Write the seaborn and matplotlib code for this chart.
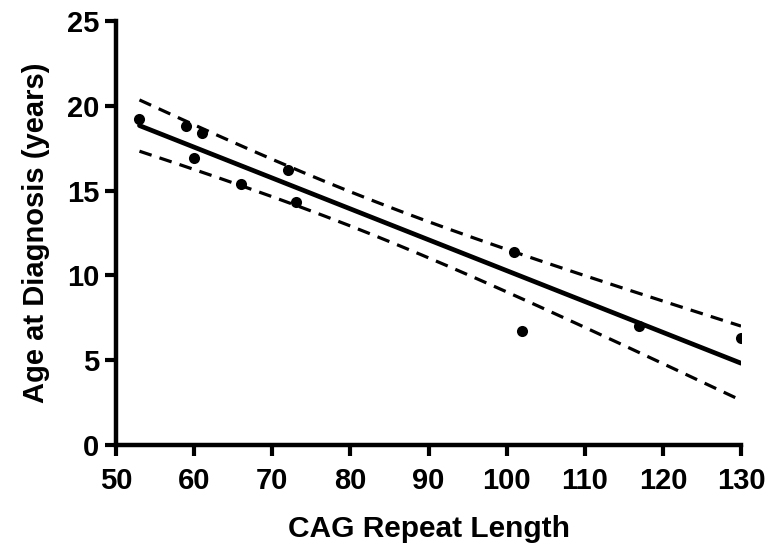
import numpy as np
import pandas as pd
import matplotlib
matplotlib.use("Agg")
import matplotlib.pyplot as plt
import seaborn as sns

cag_repeat = [53, 59, 60, 61, 66, 72, 73, 101, 102, 117, 130]
age_at_diagnosis = [19.2, 18.8, 16.9, 18.4, 15.4, 16.2, 14.3, 11.4, 6.7, 7.0, 6.3]
x_ticks = [50, 60, 70, 80, 90, 100, 110, 120, 130]
y_ticks = [0, 5, 10, 15, 20, 25]

df = pd.DataFrame({"cag": cag_repeat, "age": age_at_diagnosis})

sns.set_style("ticks")
plt.rcParams["font.family"] = ["Liberation Sans", "DejaVu Sans"]
plt.rcParams["font.weight"] = "bold"
for key in ["text.color", "axes.labelcolor", "xtick.color", "ytick.color", "axes.edgecolor"]:
    plt.rcParams[key] = "black"

fig = plt.figure(figsize=(7.71, 5.60), dpi=100)
ax = fig.add_axes([0.1505, 0.2054, 0.8106, 0.757])

sns.regplot(data=df, x="cag", y="age", ax=ax, ci=None, truncate=True,
            scatter_kws=dict(s=64, color="black", linewidths=0, alpha=1, zorder=3),
            line_kws=dict(color="black", lw=3.4))

# 95% confidence band of the linear fit
x = np.asarray(cag_repeat, float)
y = np.asarray(age_at_diagnosis, float)
n = len(x)
b, a = np.polyfit(x, y, 1)
resid = y - (a + b * x)
s = np.sqrt(np.sum(resid ** 2) / (n - 2))
xx = np.linspace(x.min(), x.max(), 200)
se = s * np.sqrt(1 / n + (xx - x.mean()) ** 2 / np.sum((x - x.mean()) ** 2))
t = 2.262
yy = a + b * xx
for band in (yy + t * se, yy - t * se):
    ax.plot(xx, band, color="black", lw=2.3, ls=(0, (4, 2.6)))

ax.set_xlim(50, 130)
ax.set_ylim(0, 25)
ax.set_xticks(x_ticks)
ax.set_yticks(y_ticks)
ax.tick_params(width=3, length=8, labelsize=21, color="black", labelcolor="black")
ax.tick_params(axis="x", pad=8)
ax.tick_params(axis="y", pad=4)
for lab in ax.get_xticklabels() + ax.get_yticklabels():
    lab.set_fontweight("bold")
for sp in ["top", "right"]:
    ax.spines[sp].set_visible(False)
for sp in ["left", "bottom"]:
    ax.spines[sp].set_linewidth(3.2)
    ax.spines[sp].set_color("black")
ax.set_xlabel("CAG Repeat Length", fontsize=21.5, fontweight="bold", labelpad=14, color="black")
ax.set_ylabel("Age at Diagnosis (years)", fontsize=21, fontweight="bold", labelpad=12, color="black")

fig.savefig("out.png", dpi=100)
